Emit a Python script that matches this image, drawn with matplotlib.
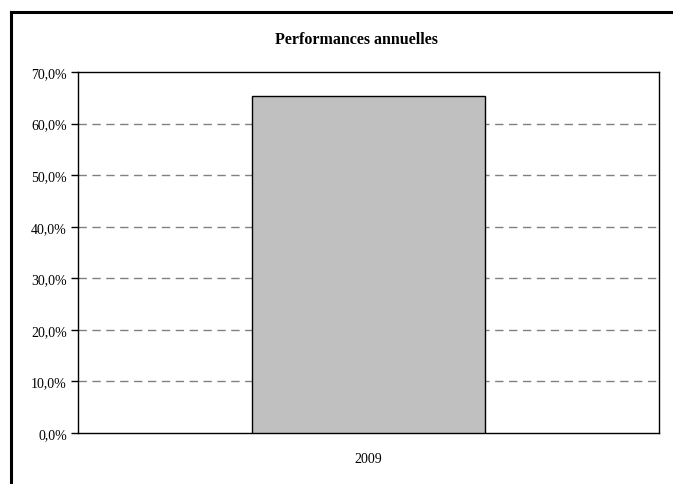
import matplotlib
matplotlib.use("Agg")
import matplotlib.pyplot as plt
from matplotlib.lines import Line2D
from matplotlib.ticker import FuncFormatter

categories = ["2009"]
values = [65.3]
yticks = [0, 10, 20, 30, 40, 50, 60, 70]
title = "Performances annuelles"

W, H = 673, 485
fig = plt.figure(figsize=(W / 100, H / 100), dpi=100)
fig.patch.set_facecolor("white")

# outer frame (left and top edges)
lw = 2.2
fig.add_artist(Line2D([10.5 / W, 10.5 / W], [1 - 12.5 / H, -0.05], transform=fig.transFigure,
                      color="black", lw=lw, solid_capstyle="projecting"))
fig.add_artist(Line2D([10.5 / W, 1.05], [1 - 12.5 / H, 1 - 12.5 / H], transform=fig.transFigure,
                      color="black", lw=lw, solid_capstyle="projecting"))

left, right, top, bottom = 78, 659, 73, 434
ax = fig.add_axes([left / W, 1 - bottom / H, (right - left) / W, (bottom - top) / H])

x = list(range(len(categories)))
ax.bar(x, values, width=0.4, color="#c0c0c0", edgecolor="black", linewidth=1.0, zorder=3)
ax.set_xlim(-0.5, 0.5)
ax.set_ylim(0, 70)
ax.set_yticks(yticks)
ax.yaxis.set_major_formatter(FuncFormatter(lambda v, p: f"{v:.1f}%".replace(".", ",")))
ax.set_xticks(x)
ax.set_xticklabels(categories)

for v in yticks[1:-1]:
    ax.axhline(v, color="#808080", lw=1.0, ls=(0, (6, 4)), zorder=1)

for s in ax.spines.values():
    s.set_linewidth(1.0)
    s.set_color("black")

font = "Liberation Serif"
ax.tick_params(axis="y", direction="out", length=5, width=1.0, pad=3,
               labelsize=10, labelfontfamily=font)
ax.tick_params(axis="x", length=0, pad=14, labelsize=10, labelfontfamily=font)

fig.text(356 / W, 1 - 40 / H, title, ha="center", va="center",
         fontfamily=font, fontweight="bold", fontsize=11.5)

fig.savefig("out.png", dpi=100)
